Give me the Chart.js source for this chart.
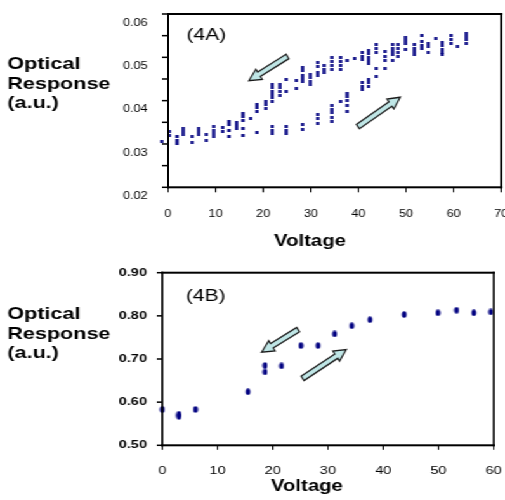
<!DOCTYPE html>
<html>
<head>
<meta charset="utf-8">
<script src="https://cdn.jsdelivr.net/npm/chart.js@4"></script>
<style>
  html, body { margin: 0; padding: 0; background: #fff; overflow: hidden; }
  /* the figure is drawn narrow and stretched sideways, like the scanned original */
  .panel { position: absolute; left: 0; height: 250px; transform-origin: 0 0; transform: scaleX(1.2688); }
  #panelA { top: 0; width: 401px; }
  #panelB { top: 250px; width: 398px; }
  .frame { position: absolute; left: 0; top: 0; pointer-events: none; }
</style>
</head>
<body>
<div class="panel" id="panelA"><canvas id="chartA" width="401" height="250"></canvas></div>
<div class="panel" id="panelB"><canvas id="chartB" width="398" height="250"></canvas></div>
<script>
// (4A) upper branch: voltage going down
const voltageDownA = [12.8, 12.8, 14.4, 14.4, 14.4, 15.7, 15.7, 15.7, 17.4, 18.7, 18.7, 18.7,
  20.6, 20.6, 20.6, 21.9, 21.9, 21.9, 21.9, 21.9, 21.9, 23.6, 23.6, 23.6, 23.6, 24.9, 24.9,
  27.0, 27.0, 28.2, 28.2, 28.2, 28.2, 28.2, 30.0, 30.0, 30.0, 30.0, 31.4, 31.4, 31.4, 31.4,
  32.7, 32.7, 32.7, 34.5, 34.5, 34.5, 34.5, 36.2, 36.2, 36.2, 36.2, 37.7, 39.2,
  40.8, 40.8, 40.8, 42.1, 42.1, 42.1, 42.1, 42.1, 43.7, 43.7, 43.7, 45.5, 45.5, 45.5,
  47.1, 47.1, 47.1, 47.1, 48.4, 48.4, 48.4, 48.4, 50.0, 50.0, 50.0, 51.8, 51.8, 51.8, 51.8,
  53.3, 53.3, 53.3, 53.3, 54.7, 54.7, 54.7, 56.3, 57.6, 57.6, 57.6, 57.6, 57.6,
  59.4, 59.4, 59.4, 60.9, 62.6, 62.6, 62.6, 62.6];
const responseDownA = [0.0353, 0.0344, 0.0350, 0.0343, 0.0336, 0.0371, 0.0363, 0.0355, 0.0358, 0.0392, 0.0384, 0.0376,
  0.0398, 0.0390, 0.0382, 0.0438, 0.0430, 0.0422, 0.0415, 0.0407, 0.0399, 0.0438, 0.0430, 0.0422, 0.0411, 0.0448, 0.0422,
  0.0446, 0.0428, 0.0477, 0.0470, 0.0459, 0.0451, 0.0444, 0.0461, 0.0453, 0.0445, 0.0438, 0.0488, 0.0479, 0.0465, 0.0457,
  0.0480, 0.0473, 0.0465, 0.0500, 0.0491, 0.0480, 0.0471, 0.0500, 0.0491, 0.0480, 0.0471, 0.0492, 0.0497,
  0.0511, 0.0503, 0.0496, 0.0515, 0.0508, 0.0500, 0.0492, 0.0486, 0.0529, 0.0520, 0.0511, 0.0513, 0.0503, 0.0492,
  0.0529, 0.0521, 0.0513, 0.0506, 0.0529, 0.0520, 0.0512, 0.0503, 0.0546, 0.0538, 0.0531, 0.0529, 0.0521, 0.0513, 0.0506,
  0.0550, 0.0536, 0.0528, 0.0521, 0.0533, 0.0525, 0.0512, 0.0544, 0.0535, 0.0527, 0.0519, 0.0512, 0.0506,
  0.0550, 0.0541, 0.0532, 0.0525, 0.0556, 0.0548, 0.0540, 0.0532];

// (4A) lower branch: voltage going up
const voltageUpA = [-1.3, 0.2, 0.2, 1.9, 1.9, 1.9, 3.1, 3.1, 3.1, 5.0, 5.0, 6.5, 6.5, 6.5, 8.1, 8.1,
  9.5, 9.5, 9.5, 9.5, 11.5, 11.5, 12.8, 12.8, 15.7, 15.7, 18.7, 21.9, 21.9, 21.9, 24.9, 24.9, 24.9,
  28.2, 28.2, 31.4, 31.4, 31.4, 34.5, 34.5, 34.5, 34.5, 34.5, 36.2, 37.7, 37.7, 37.7, 37.7, 37.7,
  40.8, 40.8, 40.8, 42.1, 42.1, 42.1, 43.7, 43.7, 45.5, 47.1, 50.0];
const responseUpA = [0.0306, 0.0328, 0.0319, 0.0317, 0.0309, 0.0302, 0.0336, 0.0328, 0.0321, 0.0317, 0.0303, 0.0336, 0.0328, 0.0321, 0.0323, 0.0308,
  0.0340, 0.0332, 0.0325, 0.0318, 0.0337, 0.0329, 0.0330, 0.0317, 0.0336, 0.0319, 0.0327, 0.0340, 0.0332, 0.0325, 0.0340, 0.0332, 0.0325,
  0.0344, 0.0334, 0.0369, 0.0359, 0.0348, 0.0388, 0.0380, 0.0372, 0.0361, 0.0352, 0.0397, 0.0417, 0.0409, 0.0401, 0.0388, 0.0376,
  0.0441, 0.0433, 0.0425, 0.0449, 0.0441, 0.0432, 0.0475, 0.0455, 0.0475, 0.0492, 0.0517];

// (4B)
const voltageB = [0, 3.0, 3.0, 6.0, 15.5, 18.6, 18.6, 21.6, 25.1, 28.2, 31.2, 34.3, 37.6, 43.8, 49.9, 53.3, 56.4, 59.5];
const responseB = [0.583, 0.572, 0.567, 0.583, 0.624, 0.685, 0.670, 0.684, 0.731, 0.731, 0.758, 0.777, 0.791, 0.803, 0.807, 0.813, 0.807, 0.809];

// hysteresis arrows, [voltage, response] tail -> tip
const arrowsA = [[[25.1, 0.0502], [17.0, 0.0446]], [[39.9, 0.0340], [48.8, 0.0408]]];
const arrowsB = [[[24.6, 0.768], [18.0, 0.716]], [[25.4, 0.655], [33.3, 0.722]]];

const yTitle = ['Optical', 'Response', '(a.u.)'];
const xTitle = 'Voltage';

const S = 505 / 398;
const NAVY = '#000080';
const FONT = '"Liberation Sans", Arial, Helvetica, sans-serif';
Chart.defaults.font.family = FONT;
Chart.defaults.color = '#000';

function toPoints(xs, ys) {
  return xs.map((x, i) => ({ x: x, y: ys[i] }));
}

function markerImage(w, h, paint) {
  const c = document.createElement('canvas');
  c.width = w; c.height = h;
  const g = c.getContext('2d');
  g.fillStyle = NAVY;
  paint(g);
  return c;
}
const squareDot = markerImage(3, 3, g => g.fillRect(0.3, 0, 2.4, 3));
const roundDot = markerImage(5, 7, g => { g.beginPath(); g.ellipse(2.5, 3.5, 1.85, 3.3, 0, 0, Math.PI * 2); g.fill(); });

function drawArrow(ctx, x1, y1, x2, y2) {
  // work in un-stretched units so the arrow keeps its shape
  ctx.save();
  ctx.scale(1 / S, 1);
  const ax = x1 * S, bx = x2 * S;
  const dx = bx - ax, dy = y2 - y1, len = Math.hypot(dx, dy);
  const ux = dx / len, uy = dy / len, nx = -uy, ny = ux;
  const hw = 2.6, hh = 6, hl = 12;
  const hx = bx - ux * hl, hy = y2 - uy * hl;
  ctx.beginPath();
  ctx.moveTo(ax + nx * hw, y1 + ny * hw);
  ctx.lineTo(hx + nx * hw, hy + ny * hw);
  ctx.lineTo(hx + nx * hh, hy + ny * hh);
  ctx.lineTo(bx, y2);
  ctx.lineTo(hx - nx * hh, hy - ny * hh);
  ctx.lineTo(hx - nx * hw, hy - ny * hw);
  ctx.lineTo(ax - nx * hw, y1 - ny * hw);
  ctx.closePath();
  ctx.fillStyle = '#bfe6e6';
  ctx.fill();
  ctx.lineWidth = 1.4;
  ctx.strokeStyle = '#1a1a1a';
  ctx.stroke();
  ctx.restore();
}

// plot box and outside tick marks, laid over the canvas from the scales' pixel mapping
function addFrame(chart, panelId, tickLen) {
  const x = chart.scales.x, y = chart.scales.y;
  const L = x.getPixelForValue(x.min), R = x.getPixelForValue(x.max);
  const T = y.getPixelForValue(y.max), B = y.getPixelForValue(y.min);
  const v = 2 / S;
  const rects = [
    [L - v / 2, T - 1, R - L + v, 2],
    [L - v / 2, B - 1, R - L + v, 2],
    [L - v / 2, T - 1, v, B - T + 2],
    [R - v / 2, T - 1, v, B - T + 2]
  ];
  x.ticks.forEach(t => rects.push([x.getPixelForValue(t.value) - 0.5, B, 1, tickLen + 1]));
  y.ticks.forEach(t => rects.push([L - tickLen - 0.8, y.getPixelForValue(t.value) - 0.75, tickLen + 0.8, 1.5]));
  const NS = 'http://www.w3.org/2000/svg';
  const svg = document.createElementNS(NS, 'svg');
  svg.setAttribute('class', 'frame');
  svg.setAttribute('width', chart.width);
  svg.setAttribute('height', chart.height);
  rects.forEach(([rx, ry, rw, rh]) => {
    const r = document.createElementNS(NS, 'rect');
    r.setAttribute('x', rx);
    r.setAttribute('y', ry);
    r.setAttribute('width', rw);
    r.setAttribute('height', rh);
    r.setAttribute('fill', '#000');
    svg.appendChild(r);
  });
  document.getElementById(panelId).appendChild(svg);
}

const decor = {
  id: 'decor',
  afterDraw(chart, args, o) {
    const ctx = chart.ctx;
    const x = chart.scales.x, y = chart.scales.y;
    o.arrows.forEach(([p, q]) => {
      drawArrow(ctx, x.getPixelForValue(p[0]), y.getPixelForValue(p[1]),
        x.getPixelForValue(q[0]), y.getPixelForValue(q[1]));
    });
    ctx.save();
    ctx.fillStyle = '#000';
    ctx.textBaseline = 'alphabetic';
    ctx.textAlign = 'left';
    ctx.font = 'bold 17px ' + FONT;
    yTitle.forEach((t, i) => ctx.fillText(t, 5.8, 69.3 + i * 19.3));
    ctx.font = '16.5px ' + FONT;
    ctx.fillText(o.tag, o.tagX, o.tagY);
    ctx.textAlign = 'center';
    ctx.font = 'bold 16px ' + FONT;
    ctx.fillText(xTitle, o.xTitleX, o.xTitleY);
    ctx.restore();
  }
};

// grid and border come from addFrame; keep the tick space in the layout
const noGrid = { display: false, drawTicks: true, tickLength: 4 };

const chartA = new Chart(document.getElementById('chartA'), {
  type: 'scatter',
  data: {
    datasets: [
      { label: 'Voltage down', data: toPoints(voltageDownA, responseDownA), pointStyle: squareDot,
        pointRadius: 6, pointBorderWidth: 0, backgroundColor: NAVY, clip: false },
      { label: 'Voltage up', data: toPoints(voltageUpA, responseUpA), pointStyle: squareDot,
        pointRadius: 6, pointBorderWidth: 0, backgroundColor: NAVY, clip: false }
    ]
  },
  options: {
    responsive: false, animation: false, devicePixelRatio: 1, events: [],
    layout: { padding: { left: 0, right: 0, top: 14, bottom: 0 } },
    scales: {
      x: {
        type: 'linear', min: 0, max: 70,
        ticks: { stepSize: 10, padding: 16.5, maxRotation: 0, autoSkip: false, font: { size: 10 } },
        grid: noGrid,
        border: { display: false },
        afterFit: s => { s.height = 62.7; s.paddingLeft = 0; s.paddingRight = 0; }
      },
      y: {
        min: 0.02, max: 0.06,
        ticks: {
          stepSize: 0.005, padding: 12, labelOffset: 9, autoSkip: false, font: { size: 10 },
          callback: v => { const k = Math.round(v * 1000); return k % 10 === 0 ? (k / 1000).toFixed(2) : ''; }
        },
        grid: noGrid,
        border: { display: false },
        afterFit: s => { s.width = 132.4; s.paddingTop = 0; s.paddingBottom = 0; }
      }
    },
    plugins: {
      legend: { display: false },
      tooltip: { enabled: false },
      decor: { arrows: arrowsA, tag: '(4A)', tagX: 147, tagY: 39.5, xTitleX: 244.3, xTitleY: 245.7 }
    }
  },
  plugins: [decor]
});
addFrame(chartA, 'panelA', 4);

const chartB = new Chart(document.getElementById('chartB'), {
  type: 'scatter',
  data: {
    datasets: [
      { label: 'Optical response', data: toPoints(voltageB, responseB), pointStyle: roundDot,
        pointRadius: 6, pointBorderWidth: 0, backgroundColor: NAVY, clip: false }
    ]
  },
  options: {
    responsive: false, animation: false, devicePixelRatio: 1, events: [],
    layout: { padding: { left: 0, right: 8.9, top: 22.7, bottom: 0 } },
    scales: {
      x: {
        type: 'linear', min: 0, max: 60,
        ticks: { stepSize: 10, padding: 14.5, maxRotation: 0, autoSkip: false, font: { size: 11.5 } },
        grid: noGrid,
        border: { display: false },
        afterFit: s => { s.height = 54.7; s.paddingLeft = 0; s.paddingRight = 0; }
      },
      y: {
        min: 0.5, max: 0.9,
        ticks: { stepSize: 0.1, padding: 8, autoSkip: false, font: { size: 11.5, weight: 'bold' },
          callback: v => v.toFixed(2) },
        grid: noGrid,
        border: { display: false },
        afterFit: s => { s.width = 127.9; s.paddingTop = 0; s.paddingBottom = 0; }
      }
    },
    plugins: {
      legend: { display: false },
      tooltip: { enabled: false },
      decor: { arrows: arrowsB, tag: '(4B)', tagX: 146.5, tagY: 50.7, xTitleX: 241.9, xTitleY: 241 }
    }
  },
  plugins: [decor]
});
addFrame(chartB, 'panelB', 3.5);
</script>
</body>
</html>
